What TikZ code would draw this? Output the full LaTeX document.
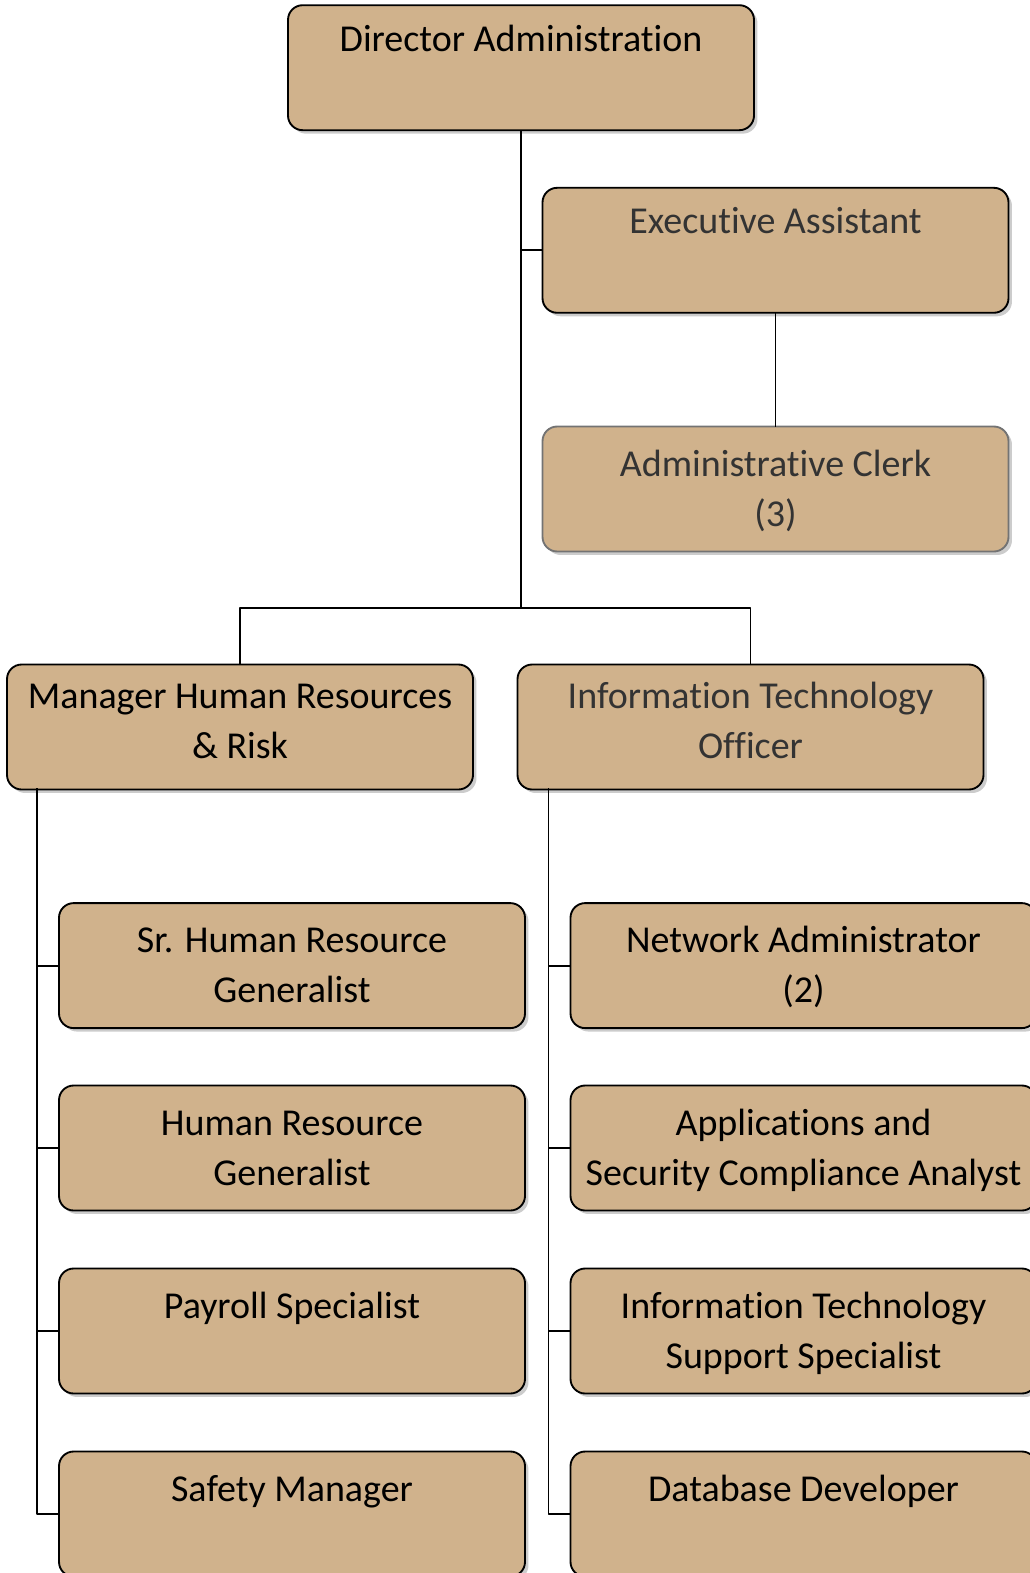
\documentclass[tikz,border=0pt]{standalone}
\usepackage{fontspec}
\setmainfont{Carlito}[Ligatures=NoCommon]
\usetikzlibrary{shadows}
\definecolor{tanbox}{RGB}{208,178,140}
\definecolor{greytext}{RGB}{51,51,51}
\newcommand{\boxtext}[1]{\parbox[t]{348pt}{\centering #1}}
\tikzset{
  box/.style={draw=black, line width=1.4pt, fill=tanbox, rounded corners=11pt,
    minimum width=349.5pt, minimum height=93.75pt, inner sep=0pt,
    drop shadow={shadow xshift=2.6pt, shadow yshift=-2.6pt, fill=black!40}},
  paler/.style={draw=black!55},
  lbl/.style={anchor=base, inner sep=0pt,
    font=\fontsize{28.5}{37.5}\selectfont},
  link/.style={line width=1.4pt, line cap=rect}
}
\begin{document}
\begin{tikzpicture}[x=0.75pt, y=-0.75pt, line join=round]
	\useasboundingbox (0,0) rectangle (1030,1573);
	% baseline of first line below box top
	\def\dtop{-35.25pt} \def\dmgr{-33.75pt} \def\dstaff{-38pt}
	% top part
	\node[box] (dir) at (521,67.7) {};
	\node[lbl] (dirT) at ([yshift=\dtop]dir.north) {\boxtext{Director Administration}};
	\node[box] (exa) at (775.5,250.3) {};
	\node[lbl, text=greytext] (exaT) at ([yshift=\dtop]exa.north) {\boxtext{Executive Assistant}};
	\node[box, paler] (clk) at (775.5,489) {};
	\node[lbl, text=greytext] (clkT) at ([yshift=\dstaff]clk.north) {\boxtext{Administrative Clerk\\(3)}};
	% managers
	\node[box] (hrm) at (240,727) {};
	\node[lbl] (hrmT) at ([yshift=\dmgr]hrm.north) {\boxtext{Manager Human Resources\\\& Risk}};
	\node[box] (ito) at (750.5,727) {};
	\node[lbl, text=greytext] (itoT) at ([yshift=\dmgr]ito.north) {\boxtext{Information Technology\\Officer}};
	% HR staff
	\node[box] (hr1) at (292,965.6) {};
	\node[lbl] (hr1T) at ([yshift=\dstaff]hr1.north) {\boxtext{Sr. Human Resource\\Generalist}};
	\node[box] (hr2) at (292,1148) {};
	\node[lbl] (hr2T) at ([yshift=\dstaff]hr2.north) {\boxtext{Human Resource\\Generalist}};
	\node[box] (hr3) at (292,1331) {};
	\node[lbl] (hr3T) at ([yshift=\dstaff]hr3.north) {\boxtext{Payroll Specialist}};
	\node[box] (hr4) at (292,1514) {};
	\node[lbl] (hr4T) at ([yshift=\dstaff]hr4.north) {\boxtext{Safety Manager}};
	% IT staff
	\node[box] (it1) at (803.5,965.6) {};
	\node[lbl] (it1T) at ([yshift=\dstaff]it1.north) {\boxtext{Network Administrator\\(2)}};
	\node[box] (it2) at (803.5,1148) {};
	\node[lbl] (it2T) at ([yshift=\dstaff]it2.north) {\boxtext{Applications and\\Security Compliance Analyst}};
	\node[box] (it3) at (803.5,1331) {};
	\node[lbl] (it3T) at ([yshift=\dstaff]it3.north) {\boxtext{Information Technology\\Support Specialist}};
	\node[box] (it4) at (803.5,1514) {};
	\node[lbl] (it4T) at ([yshift=\dstaff]it4.north) {\boxtext{Database Developer}};
	% links
	\coordinate (bus) at (521,608);
	\draw[link] (dir.south) -- (bus);
	\draw[link] (dir.south |- exa.west) -- (exa.west);
	\draw[link] (exa.south) -- (clk.north);
	\draw[link] (bus) -| (hrm.north);
	\draw[link] (bus) -| (ito.north);
	\coordinate (hrx) at (37,789);
	\coordinate (itx) at (548.5,789);
	\draw[link] (hrx) -- (hrx |- hr4.west) -- (hr4.west);
	\draw[link] (itx) -- (itx |- it4.west) -- (it4.west);
	\foreach \k in {1,2,3}{
		\draw[link] (hrx |- hr\k.west) -- (hr\k.west);
		\draw[link] (itx |- it\k.west) -- (it\k.west);
	}
\end{tikzpicture}
\end{document}
